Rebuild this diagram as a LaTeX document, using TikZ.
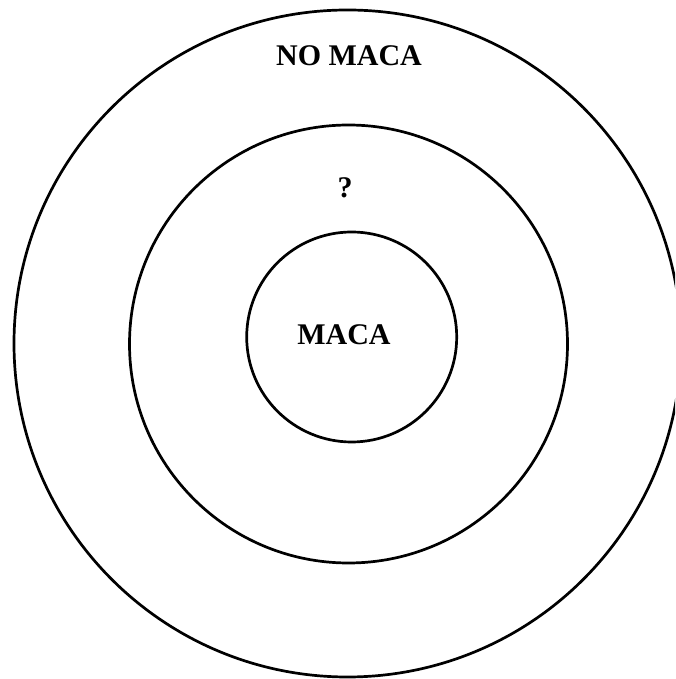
\documentclass[tikz,border=0pt]{standalone}
\usepackage{fontspec}
\setmainfont{Liberation Serif}
\begin{document}
\begin{tikzpicture}[x=1pt,y=1pt,
  ring/.style={circle,draw=black,line width=2.7pt,inner sep=0pt},
  lbl/.style={inner sep=0pt,font=\fontsize{30}{36}\selectfont\bfseries}]
\useasboundingbox (0,0) rectangle (675,679);
\clip (0,0) rectangle (675,679);
\node[ring,minimum size=667pt] (outer) at (347.5,335.5) {};
\node[ring,minimum size=438pt] (middle) at (348.5,335) {};
\node[ring,minimum size=210pt] (inner) at (351.7,342) {};
\node[lbl] (nomaca) at (349,623) {NO MACA};
\node[lbl] (q) at (345,491) {?};
\node[lbl] (maca) at (344,344.5) {MACA};
\end{tikzpicture}
\end{document}
